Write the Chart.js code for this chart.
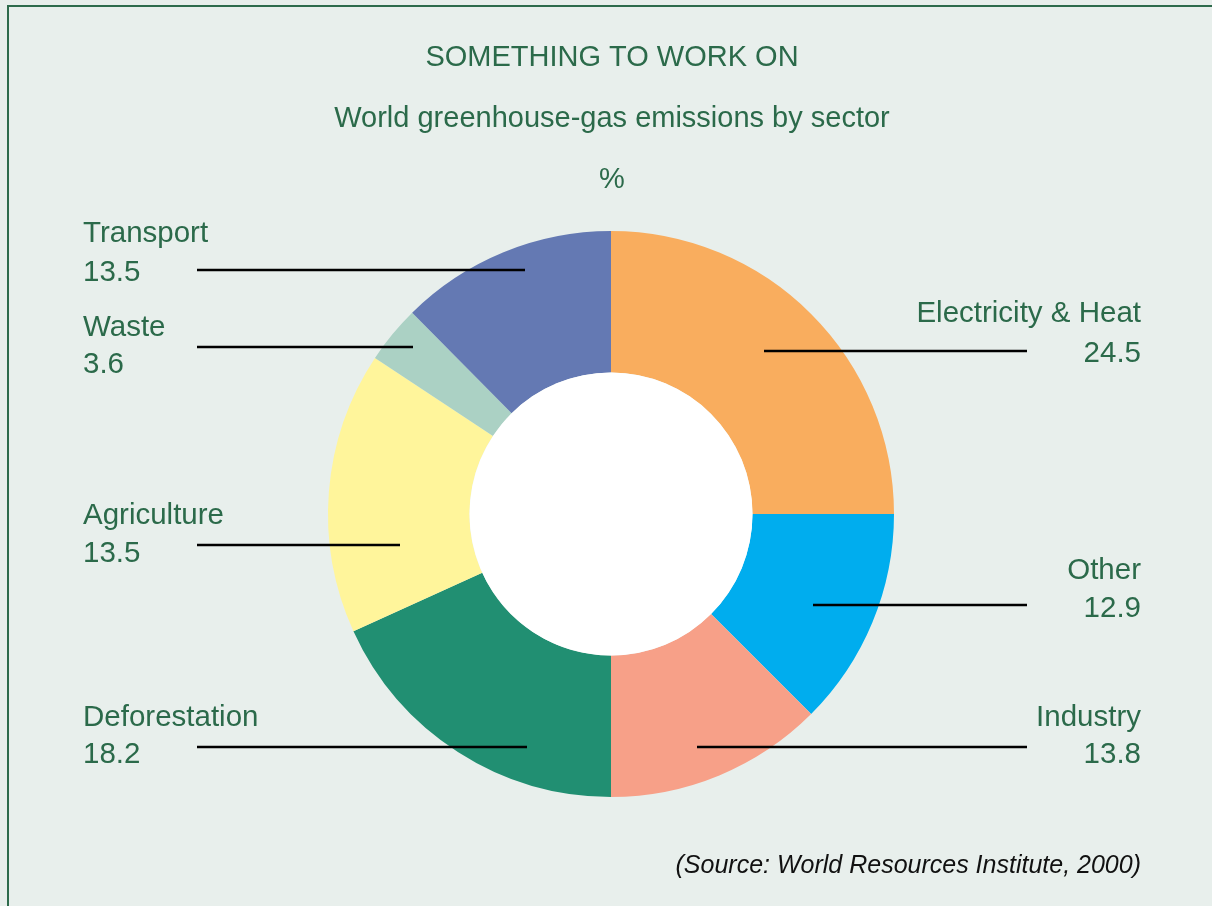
<!DOCTYPE html>
<html>
<head>
<meta charset="utf-8">
<script src="https://cdn.jsdelivr.net/npm/chart.js@4.4.0/dist/chart.umd.min.js"></script>
<style>
  html, body { margin:0; padding:0; background:#e8efec; }
  #wrap { position:relative; width:1212px; height:906px; overflow:hidden; }
  #frame { position:absolute; left:7px; top:5px; right:0; bottom:0; border-top:2px solid #2e6b4c; border-left:2px solid #2e6b4c; }
  canvas { position:absolute; left:0; top:0; }
</style>
</head>
<body>
<div id="wrap">
  <div id="frame"></div>
  <canvas id="pie" width="1212" height="906"></canvas>
</div>
<script>
// sectors clockwise from 12 o'clock
const sectors = ['Electricity & Heat', 'Other', 'Industry', 'Deforestation', 'Agriculture', 'Waste', 'Transport'];
// the printed figures (%)
const labelValues = [24.5, 12.9, 13.8, 18.2, 13.5, 3.6, 13.5];
const sliceShares = [25.0, 12.5, 12.5, 18.2, 16.1, 3.3, 12.4];
const colours = ['#f9ad5e', '#00adee', '#f7a088', '#218f72', '#fff59b', '#abd1c4', '#6479b3'];

const GREEN = '#2b6a4a';
const FONT = '"Liberation Sans", Arial, sans-serif';

// label placement (layout only): side, text x, name baseline, value baseline, leader y, leader inner end (dx from centre)
const labelPos = [
  {side:'right', x:1141, ny:322, vy:362, ly:351, dx:153},
  {side:'right', x:1141, ny:579, vy:617, ly:605, dx:202},
  {side:'right', x:1141, ny:726, vy:763, ly:747, dx:86},
  {side:'left',  x:83,   ny:726, vy:763, ly:747, dx:-84},
  {side:'left',  x:83,   ny:524, vy:562, ly:545, dx:-211},
  {side:'left',  x:83,   ny:336, vy:373, ly:347, dx:-198},
  {side:'left',  x:83,   ny:242, vy:281, ly:270, dx:-86}
];

// white hole in the middle of the ring
const whiteHole = {
  id: 'whiteHole',
  afterDatasetsDraw(chart){
    const arc = chart.getDatasetMeta(0).data[0];
    const ctx = chart.ctx;
    ctx.save();
    ctx.fillStyle = '#ffffff';
    ctx.beginPath();
    ctx.arc(arc.x, arc.y, arc.innerRadius, 0, Math.PI * 2);
    ctx.fill();
    ctx.restore();
  }
};

const annotations = {
  id: 'annotations',
  afterDraw(chart){
    const ctx = chart.ctx;
    const arc0 = chart.getDatasetMeta(0).data[0];
    const cx = arc0.x;
    ctx.save();
    // titles
    ctx.fillStyle = GREEN;
    ctx.textAlign = 'center';
    ctx.textBaseline = 'alphabetic';
    ctx.font = '29px ' + FONT;
    ctx.fillText('SOMETHING TO WORK ON', 612, 66);
    ctx.fillText('World greenhouse-gas emissions by sector', 612, 127);
    ctx.fillText('%', 612, 188);

    // labels + leader lines
    ctx.font = '29.5px ' + FONT;
    sectors.forEach((name, i) => {
      const p = labelPos[i];
      ctx.fillStyle = GREEN;
      ctx.textAlign = p.side === 'left' ? 'left' : 'right';
      ctx.fillText(name, p.x, p.ny);
      ctx.fillText(labelValues[i].toFixed(1), p.x, p.vy);
      ctx.strokeStyle = '#000';
      ctx.lineWidth = 2.5;
      ctx.beginPath();
      const outer = p.side === 'left' ? 197 : 1027;
      ctx.moveTo(outer, p.ly);
      ctx.lineTo(cx + p.dx, p.ly);
      ctx.stroke();
    });

    // source
    ctx.fillStyle = '#111';
    ctx.textAlign = 'right';
    ctx.font = 'italic 25px ' + FONT;
    ctx.fillText('(Source: World Resources Institute, 2000)', 1141, 873);
    ctx.restore();
  }
};

new Chart(document.getElementById('pie'), {
  type: 'doughnut',
  data: {
    labels: sectors,
    datasets: [{
      data: sliceShares,
      backgroundColor: colours,
      borderWidth: 0,
      hoverOffset: 0
    }]
  },
  options: {
    responsive: false,
    animation: false,
    cutout: '50%',
    layout: { padding: { top:231, bottom:109, left:328, right:318 } },
    plugins: { legend: { display:false }, tooltip: { enabled:false } }
  },
  plugins: [whiteHole, annotations]
});
</script>
</body>
</html>
